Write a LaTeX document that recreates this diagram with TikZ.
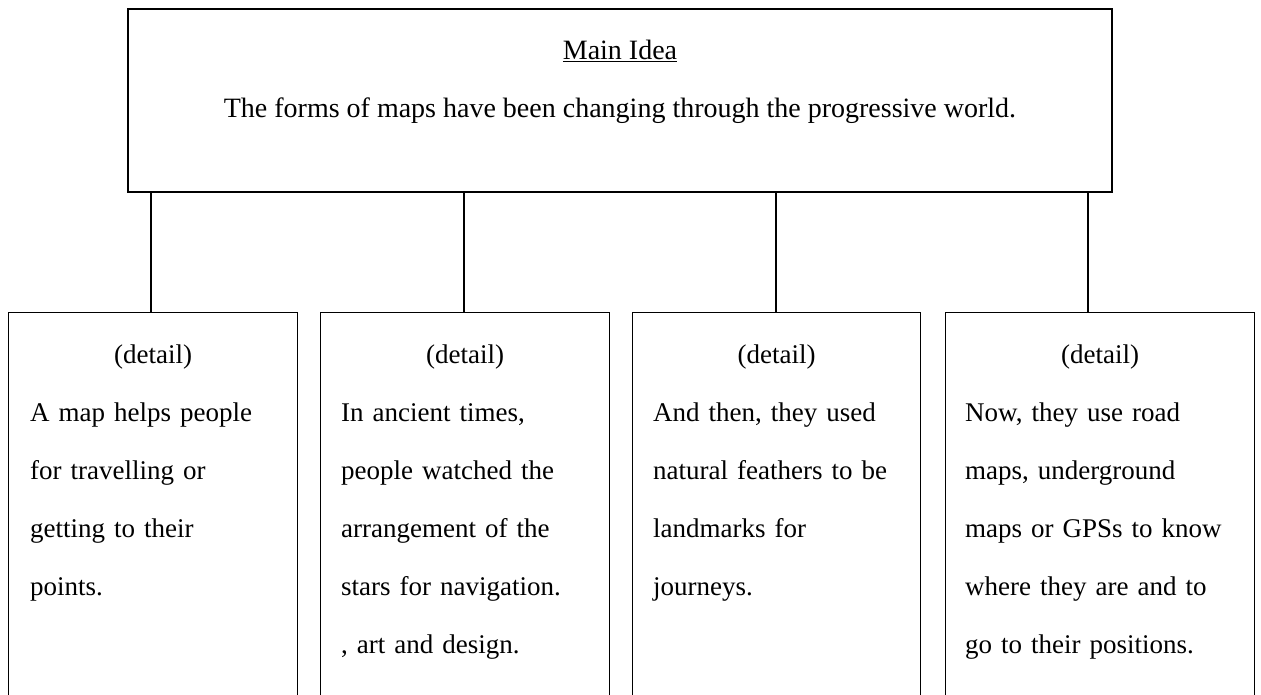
\documentclass[tikz,border=0pt]{standalone}
\usepackage{fontspec}
\setmainfont{Liberation Serif}
\usepackage{tikz}
\usetikzlibrary{calc}

\begin{document}
\begin{tikzpicture}[x=1pt,y=-1pt,
        box/.style={draw, line width=1.3pt, inner sep=0pt, anchor=north west, minimum height=420pt},
        txt/.style={font=\fontsize{28}{58}\selectfont, inner sep=0pt},
        small/.style={font=\fontsize{27}{58}\selectfont, inner sep=0pt},
        body/.style={small, anchor=base west, text width=285pt, align=left}]
        % Page size
        \clip (0,0) rectangle (1261,695);

        % Main idea box
        \node[draw, line width=1.5pt, inner sep=0pt, minimum width=984pt, minimum height=183pt] (main) at (620,100.5) {};
        \node[txt, anchor=base] (title) at ($(main.north)+(0,51)$) {\underline{Main Idea}};
        \node[txt, anchor=base] (idea) at ($(main.north)+(0,109)$) {The forms of maps have been changing through the progressive world.};

        % Detail boxes
        \node[box, minimum width=289pt] (d1) at (8,312) {};
        \node[box, minimum width=289pt] (d2) at (320,312) {};
        \node[box, minimum width=288pt] (d3) at (632,312) {};
        \node[box, minimum width=309pt] (d4) at (945,312) {};

        % Where the lines leave the main box
        \coordinate (c1) at (151,192);
        \coordinate (c2) at (464,192);
        \coordinate (c3) at (776,192);
        \coordinate (c4) at (1088,192);

        % Draw the lines down to the details
        \draw[line width=1.3pt] (c1) -- (c1 |- d1.north);
        \draw[line width=1.3pt] (c2) -- (c2 |- d2.north);
        \draw[line width=1.3pt] (c3) -- (c3 |- d3.north);
        \draw[line width=1.3pt] (c4) -- (c4 |- d4.north);

        % Label the details
        \node[small, anchor=base] (h1) at ($(d1.north)+(0,51)$) {(detail)};
        \node[small, anchor=base] (h2) at ($(d2.north)+(0,51)$) {(detail)};
        \node[small, anchor=base] (h3) at ($(d3.north)+(0,51)$) {(detail)};
        \node[small, anchor=base] (h4) at ($(d4.north)+(0,51)$) {(detail)};

        \node[body] (b1) at ($(d1.north west)+(22,109)$) {A map helps people\\for travelling or\\getting to their\\points.};
        \node[body] (b2) at ($(d2.north west)+(21,109)$) {In ancient times,\\people watched the\\arrangement of the\\stars for navigation.\\, art and design.};
        \node[body] (b3) at ($(d3.north west)+(21,109)$) {And then, they used\\natural feathers to be\\landmarks for\\journeys.};
        \node[body] (b4) at ($(d4.north west)+(20,109)$) {Now, they use road\\maps, underground\\maps or GPSs to know\\where they are and to\\go to their positions.};

    \end{tikzpicture}
\end{document}
